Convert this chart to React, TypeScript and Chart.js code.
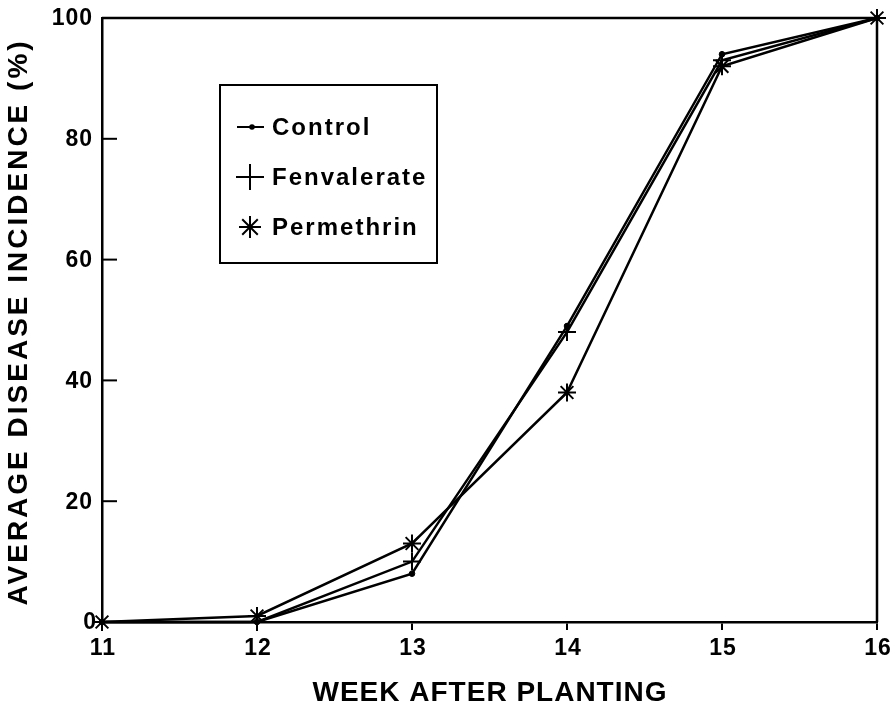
import React, { useEffect, useRef } from "react";
import { Chart, registerables } from "chart.js";

Chart.register(...registerables);

const weeks = [11, 12, 13, 14, 15, 16];
const controlValues = [0, 0, 8, 49, 94, 100];
const fenvalerateValues = [0, 0, 10, 48, 93, 100];
const permethrinValues = [0, 1, 13, 38, 92, 100];
const seriesLabels = ["Control", "Fenvalerate", "Permethrin"];
const yTicks = [0, 20, 40, 60, 80, 100];
const xTitle = "WEEK AFTER PLANTING";
const yTitle = "AVERAGE DISEASE INCIDENCE (%)";

const FONT = '"Liberation Sans", Arial, Helvetica, sans-serif';

function toPoints(vals: number[]) {
  return weeks.map((w, i) => ({ x: w, y: vals[i] }));
}

const decorPlugin = {
  id: "decor",
  afterDraw(chart: any) {
    const ctx = chart.ctx as CanvasRenderingContext2D;
    const { left, right, top, bottom } = chart.chartArea;
    const yScale = chart.scales.y;
    const xScale = chart.scales.x;
    ctx.save();
    ctx.strokeStyle = "#000";
    ctx.fillStyle = "#000";
    ctx.lineWidth = 2.5;
    // frame top & right
    ctx.beginPath();
    ctx.moveTo(left, top);
    ctx.lineTo(right, top);
    ctx.lineTo(right, bottom);
    ctx.stroke();
    // inward y ticks
    ctx.lineWidth = 2;
    yTicks.forEach((v) => {
      if (v === 0 || v === 100) return;
      const py = yScale.getPixelForValue(v);
      ctx.beginPath();
      ctx.moveTo(left, py);
      ctx.lineTo(left + 15, py);
      ctx.stroke();
    });
    // tick labels
    ctx.font = `bold 23px ${FONT}`;
    (ctx as any).letterSpacing = "1px";
    ctx.textBaseline = "middle";
    ctx.textAlign = "right";
    yTicks.forEach((v) => {
      const py = yScale.getPixelForValue(v);
      ctx.fillText(String(v), v === 0 ? left - 5 : left - 9, py + 1);
    });
    ctx.textAlign = "center";
    weeks.forEach((w) => {
      const px = xScale.getPixelForValue(w);
      ctx.fillText(String(w), px + 1, bottom + 27);
    });
    // legend
    const bx = 220, by = 85, bw = 217, bh = 178;
    ctx.lineWidth = 2;
    ctx.strokeRect(bx, by, bw, bh);
    ctx.font = `bold 24px ${FONT}`;
    (ctx as any).letterSpacing = "2px";
    ctx.textBaseline = "middle";
    ctx.textAlign = "left";
    chart.data.datasets.forEach((ds: any, i: number) => {
      const cy = 127 + i * 50;
      const cx = 250;
      ctx.lineWidth = 2;
      if (i === 0) {
        ctx.beginPath();
        ctx.moveTo(237, cy);
        ctx.lineTo(264, cy);
        ctx.stroke();
        ctx.beginPath();
        ctx.arc(252, cy, 2.8, 0, Math.PI * 2);
        ctx.fill();
      } else if (i === 1) {
        ctx.beginPath();
        ctx.moveTo(236, cy);
        ctx.lineTo(264, cy);
        ctx.moveTo(cx, cy - 13);
        ctx.lineTo(cx, cy + 13);
        ctx.stroke();
      } else {
        const r = 11;
        ctx.beginPath();
        for (let k = 0; k < 4; k++) {
          const a = (k * Math.PI) / 4;
          ctx.moveTo(cx - r * Math.cos(a), cy - r * Math.sin(a));
          ctx.lineTo(cx + r * Math.cos(a), cy + r * Math.sin(a));
        }
        ctx.stroke();
      }
      ctx.fillText(ds.label, 272, cy + 1);
    });
    // titles
    ctx.textAlign = "center";
    ctx.font = `bold 28px ${FONT}`;
    (ctx as any).letterSpacing = "1px";
    ctx.fillText(xTitle, 490, 693);
    ctx.save();
    ctx.translate(19, 322);
    ctx.rotate(-Math.PI / 2);
    (ctx as any).letterSpacing = "3px";
    ctx.fillText(yTitle, 0, 0);
    ctx.restore();
    ctx.restore();
  },
};

export default function App() {
  const ref = useRef<HTMLCanvasElement>(null);
  useEffect(() => {
    if (!ref.current) return;
    Chart.defaults.font.family = FONT;
    const common = {
      borderColor: "#000",
      backgroundColor: "#000",
      borderWidth: 2.5,
      tension: 0,
      fill: false,
      clip: false,
    };
    const chart = new Chart(ref.current, {
      type: "line",
      data: {
        datasets: [
          {
            ...common,
            label: seriesLabels[0],
            data: toPoints(controlValues),
            pointStyle: "circle",
            pointRadius: 2.8,
            pointBorderWidth: 1,
          },
          {
            ...common,
            label: seriesLabels[1],
            data: toPoints(fenvalerateValues),
            pointStyle: "cross",
            pointRadius: 9,
            pointBorderWidth: 2,
          },
          {
            ...common,
            label: seriesLabels[2],
            data: toPoints(permethrinValues),
            pointStyle: "star",
            pointRadius: 9,
            pointBorderWidth: 2,
          },
        ],
      },
      options: {
        responsive: false,
        animation: false,
        layout: { padding: { top: 18, right: 18, left: 0, bottom: 0 } },
        plugins: { legend: { display: false }, tooltip: { enabled: false } },
        scales: {
          x: {
            type: "linear",
            min: 11,
            max: 16,
            afterFit: (s: any) => {
              s.height = 93;
            },
            afterBuildTicks: (s: any) => {
              s.ticks = weeks.map((v) => ({ value: v }));
            },
            grid: { display: true, drawOnChartArea: false, drawTicks: true, tickLength: 8, color: "#000", lineWidth: 2 },
            border: { display: true, color: "#000", width: 2.5 },
            ticks: { display: false },
          },
          y: {
            type: "linear",
            min: 0,
            max: 100,
            afterFit: (s: any) => {
              s.width = 102;
            },
            afterBuildTicks: (s: any) => {
              s.ticks = yTicks.map((v) => ({ value: v }));
            },
            grid: { display: false, drawOnChartArea: false, drawTicks: false },
            border: { display: true, color: "#000", width: 2.5 },
            ticks: { display: false },
          },
        },
      } as any,
      plugins: [decorPlugin],
    });
    return () => chart.destroy();
  }, []);
  return (
    <div style={{ position: "absolute", left: 0, top: 0, width: 895, height: 715, background: "#fff" }}>
      <canvas ref={ref} width={895} height={715} />
    </div>
  );
}
